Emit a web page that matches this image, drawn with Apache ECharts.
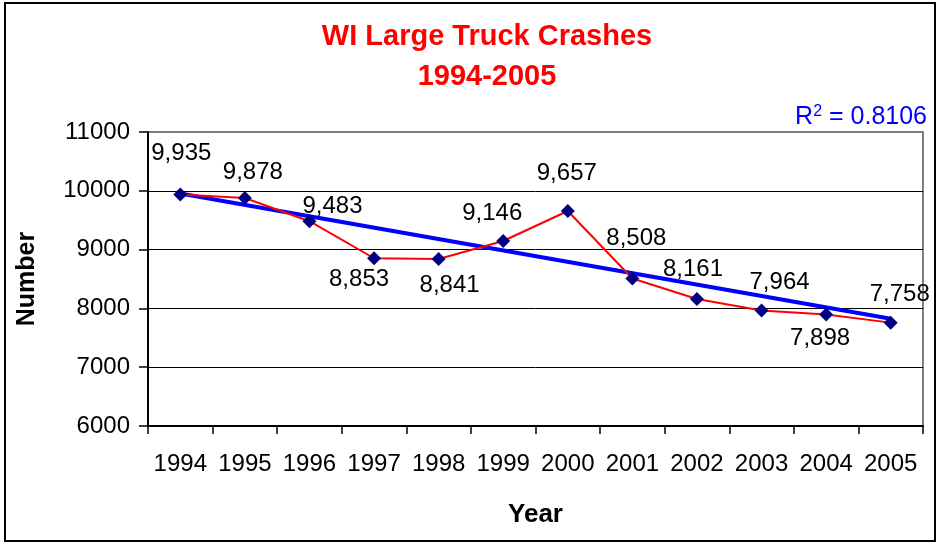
<!DOCTYPE html>
<html lang="en">
<head>
  <meta charset="UTF-8">
  <title>WI Large Truck Crashes</title>
  <script src="https://cdn.jsdelivr.net/npm/echarts@6.0.0/dist/echarts.min.js"></script>
  <style>
    html, body { margin: 0; padding: 0; background: #fff; }
    #chart { width: 938px; height: 544px; }
  </style>
</head>
<body>
  <div id="chart"></div>

<script>
  const years = ['1994','1995','1996','1997','1998','1999','2000','2001','2002','2003','2004','2005']
  const crashes = [9935, 9878, 9483, 8853, 8841, 9146, 9657, 8508, 8161, 7964, 7898, 7758]
  // trendline ends
  const trend = [9955, null, null, null, null, null, null, null, null, null, null, 7825]
  const rSquared = '0.8106'

  // where each data label sits relative to its marker (px)
  const labelNudge = [[1,-41],[8,-26],[23,-15],[-15,21],[11,26],[-11,-28],[-1,-38],[4,-40],[-4,-30],[18,-28],[-6,24],[9,-28]]

  const font = 'Liberation Sans, Arial, sans-serif'
  const chart = echarts.init(document.getElementById('chart'))

  const option = {
    backgroundColor: '#fff',
    animation: false,
    title: {
      text: 'WI Large Truck Crashes\n1994-2005',
      left: 482, top: 12, textAlign: 'center',
      textStyle: { color: '#ff0000', fontFamily: font, fontWeight: 'bold', fontSize: 29, lineHeight: 40 }
    },
    grid: { left: 148, right: 15, top: 132, bottom: 118, show: true, borderColor: '#808080', borderWidth: 2 },
    xAxis: {
      type: 'category', data: years, boundaryGap: true,
      name: 'Year', nameLocation: 'middle', nameGap: 76,
      nameTextStyle: { fontFamily: font, fontWeight: 'bold', fontSize: 26, color: '#000' },
      axisLine: { lineStyle: { color: '#000', width: 2 } },
      axisTick: { show: true, length: 8, lineStyle: { color: '#000', width: 1.5 } },
      axisLabel: { interval: 0, margin: 26, fontFamily: font, fontSize: 24, color: '#000' }
    },
    yAxis: {
      type: 'value', min: 6000, max: 11000, interval: 1000,
      name: 'Number', nameLocation: 'middle', nameGap: 108, nameRotate: 90,
      nameTextStyle: { fontFamily: font, fontWeight: 'bold', fontSize: 25, color: '#000' },
      axisLine: { show: true, lineStyle: { color: '#000', width: 2 } },
      axisTick: { show: true, length: 9, lineStyle: { color: '#000', width: 1.5 } },
      axisLabel: { margin: 18, fontFamily: font, fontSize: 24, color: '#000', formatter: v => String(v) },
      splitLine: { lineStyle: { color: ['#000','#000','#000','#000','#000','#808080'], width: 1 } }
    },
    series: [
      {
        name: 'Crashes', type: 'line', z: 2,
        data: crashes.map((v, i) => ({
          value: v,
          label: { offset: labelNudge[i] }
        })),
        lineStyle: { color: '#ff0000', width: 2 },
        symbol: 'diamond', symbolSize: 14,
        itemStyle: { color: '#000080' },
        label: {
          show: true, position: 'inside', fontFamily: font, fontSize: 24, color: '#000',
          formatter: p => p.value.toLocaleString('en-US')
        }
      },
      {
        name: 'Trend', type: 'line', z: 1,
        data: trend, connectNulls: true, showSymbol: false, symbol: 'none',
        lineStyle: { color: '#0000ff', width: 4 }
      }
    ],
    graphic: [
      {
        type: 'rect', shape: { x: 5, y: 3, width: 930, height: 538 },
        style: { fill: 'none', stroke: '#000', lineWidth: 2 }, silent: true
      },
      {
        type: 'text', right: 11, top: 104,
        style: {
          text: '{r|R}{s|2}{r| = ' + rSquared + '}',
          rich: {
            r: { fontFamily: font, fontSize: 25, fill: '#0000ff' },
            s: { fontFamily: font, fontSize: 16, fill: '#0000ff', verticalAlign: 'top', padding: [0, 0, 10, 0] }
          }
        }
      }
    ]
  }
  chart.setOption(option)
</script>
</body>
</html>
